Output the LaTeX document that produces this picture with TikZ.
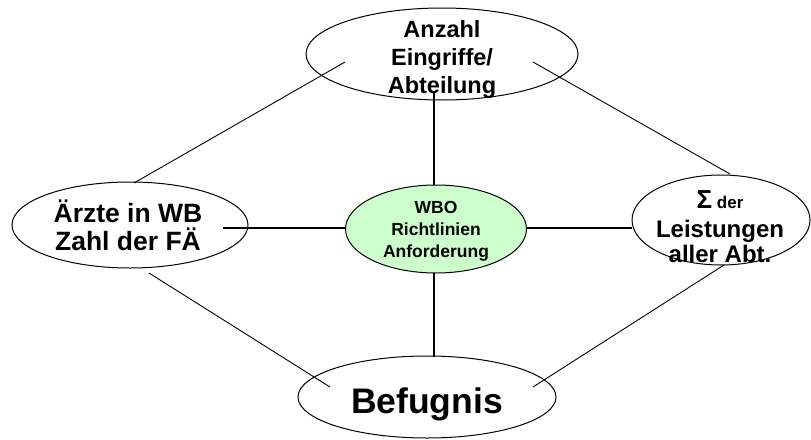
\documentclass[tikz,border=0pt]{standalone}
\usepackage{fontspec}
\setmainfont{Liberation Sans}
\usetikzlibrary{shapes.geometric}
\definecolor{lightgreen}{HTML}{CCFFCC}
\begin{document}
\begin{tikzpicture}[x=1pt,y=-1pt,
  ell/.style={draw, ellipse, line width=1pt, inner sep=0pt},
  thinline/.style={line width=0.9pt},
  thickline/.style={line width=2.6pt},
  lbl/.style={anchor=base, inner sep=0pt}]
\useasboundingbox (0,0) rectangle (811,439);
% ellipses
\node[ell, minimum width=272pt, minimum height=92pt] (top) at (442,54) {};
\node[ell, minimum width=236pt, minimum height=86pt] (left) at (130,225) {};
\node[ell, fill=lightgreen, minimum width=181pt, minimum height=88pt] (cen) at (436,229) {};
\node[ell, minimum width=178pt, minimum height=90pt] (right) at (721,220) {};
\node[ell, minimum width=258pt, minimum height=82pt] (bot) at (427,397) {};
% coordinates for connector ends
\coordinate (tl1) at (134,183);
\coordinate (tl2) at (345,62);
\coordinate (tr1) at (533,62);
\coordinate (tr2) at (730,174);
\coordinate (bl1) at (149,273);
\coordinate (bl2) at (330,387);
\coordinate (br1) at (724,265);
\coordinate (br2) at (533,387);
\coordinate (ct) at (434,93);
\coordinate (ctc) at (434,185);
\coordinate (cb) at (434,357);
\coordinate (cbc) at (434,273);
\coordinate (cl) at (223,228);
\coordinate (clc) at (346,228);
\coordinate (cr) at (632,228);
\coordinate (crc) at (527,228);
% thin connectors
\draw[thinline] (tl1) -- (tl2);
\draw[thinline] (tr1) -- (tr2);
\draw[thinline] (bl1) -- (bl2);
\draw[thinline] (br1) -- (br2);
% thick connectors
\draw[thickline] (ct) -- (ctc);
\draw[thickline] (cbc) -- (cb);
\draw[thickline] (cl) -- (clc);
\draw[thickline] (crc) -- (cr);
% texts
\node[lbl, font=\fontsize{23.5}{28}\selectfont\bfseries] (ta) at (442,37) {Anzahl};
\node[lbl, font=\fontsize{23.5}{28}\selectfont\bfseries] (tb) at (442,65) {Eingriffe/};
\node[lbl, font=\fontsize{23.5}{28}\selectfont\bfseries] (tc) at (442,93) {Abteilung};
\node[lbl, font=\fontsize{26.5}{28}\selectfont\bfseries] (la) at (128,222) {Ärzte in WB};
\node[lbl, font=\fontsize{26.5}{28}\selectfont\bfseries] (lb) at (128,250) {Zahl der FÄ};
\node[lbl, font=\fontsize{17.5}{22}\selectfont\bfseries] (ca) at (436,213) {WBO};
\node[lbl, font=\fontsize{17.5}{22}\selectfont\bfseries] (cb2) at (436,235) {Richtlinien};
\node[lbl, font=\fontsize{17.5}{22}\selectfont\bfseries] (cc) at (436,257) {Anforderung};
\node[lbl, font=\fontsize{17}{22}\selectfont\bfseries] (ra) at (720,208) {{\fontsize{26}{26}\selectfont Σ} der};
\node[lbl, font=\fontsize{24}{27}\selectfont\bfseries] (rb) at (720,237) {Leistungen};
\node[lbl, font=\fontsize{24}{27}\selectfont\bfseries] (rc) at (720,262) {aller Abt.};
\node[lbl, font=\fontsize{35.5}{36}\selectfont\bfseries] (ba) at (427,413) {Befugnis};
\end{tikzpicture}
\end{document}
